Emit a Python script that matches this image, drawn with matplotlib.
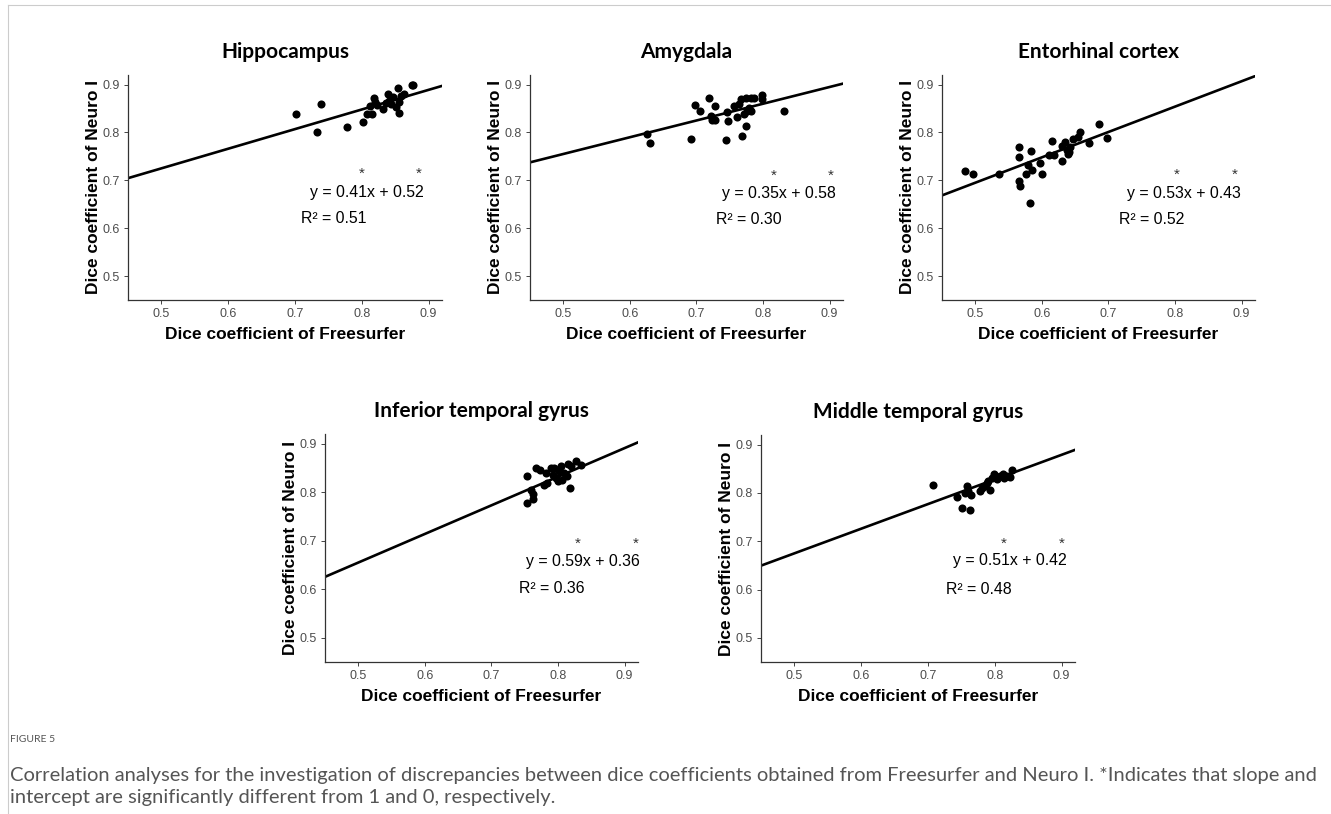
import matplotlib.pyplot as plt
import numpy as np

# data
titles = ["Hippocampus", "Amygdala", "Entorhinal cortex",
          "Inferior temporal gyrus", "Middle temporal gyrus"]

hippo_x = [0.702, 0.7395, 0.733, 0.778, 0.802, 0.807, 0.8145, 0.8125, 0.8175, 0.82,
           0.822, 0.831, 0.839, 0.841, 0.8435, 0.851, 0.8545, 0.855, 0.8585, 0.8635,
           0.856, 0.846, 0.836, 0.875, 0.877]
hippo_y = [0.838, 0.8585, 0.800, 0.811, 0.822, 0.838, 0.839, 0.8556, 0.872, 0.8627,
           0.857, 0.8487, 0.881, 0.866, 0.8585, 0.8535, 0.893, 0.840, 0.8757, 0.880,
           0.864, 0.874, 0.861, 0.900, 0.899]

amyg_x = [0.625, 0.630, 0.6914, 0.6977, 0.706, 0.719, 0.728, 0.7213, 0.723, 0.728,
          0.746, 0.7466, 0.745, 0.757, 0.761, 0.7645, 0.767, 0.768, 0.774, 0.7815,
          0.7865, 0.7715, 0.775, 0.776, 0.7815, 0.799, 0.799, 0.832, 0.779]
amyg_y = [0.797, 0.7775, 0.7866, 0.858, 0.844, 0.873, 0.856, 0.835, 0.8267, 0.826,
          0.842, 0.823, 0.7845, 0.856, 0.8315, 0.859, 0.8697, 0.7935, 0.873, 0.873,
          0.873, 0.8385, 0.814, 0.845, 0.844, 0.8786, 0.870, 0.844, 0.851]

ento_x = [0.485, 0.496, 0.535, 0.566, 0.565, 0.565, 0.567, 0.582, 0.584, 0.5797,
          0.576, 0.5857, 0.597, 0.5997, 0.6147, 0.611, 0.6186, 0.6296, 0.6306, 0.6345,
          0.637, 0.6405, 0.642, 0.647, 0.6535, 0.657, 0.671, 0.6858, 0.698, 0.6395]
ento_y = [0.7185, 0.7137, 0.7137, 0.769, 0.748, 0.6983, 0.6873, 0.6534, 0.762, 0.733,
          0.7137, 0.722, 0.7358, 0.7123, 0.783, 0.752, 0.752, 0.740, 0.7726, 0.7795,
          0.7636, 0.7586, 0.769, 0.7865, 0.790, 0.800, 0.778, 0.8177, 0.7886, 0.754]

itg_x = [0.754, 0.754, 0.759, 0.7617, 0.763, 0.7667, 0.7727, 0.779, 0.784, 0.7825,
         0.789, 0.7925, 0.7966, 0.8015, 0.804, 0.8065, 0.8005, 0.8154, 0.819, 0.814,
         0.818, 0.8265, 0.834, 0.794, 0.809]
itg_y = [0.834, 0.7786, 0.805, 0.796, 0.7857, 0.850, 0.8466, 0.814, 0.819, 0.8397,
         0.850, 0.836, 0.8293, 0.843, 0.8534, 0.8258, 0.8223, 0.8584, 0.8534, 0.8327,
         0.8085, 0.8638, 0.857, 0.850, 0.840]

mtg_x = [0.707, 0.7438, 0.7504, 0.7628, 0.758, 0.7553, 0.760, 0.7638, 0.7778, 0.7803,
         0.7853, 0.790, 0.7928, 0.7953, 0.7987, 0.8028, 0.8077, 0.8137, 0.8187, 0.825,
         0.8227, 0.7878, 0.8117]
mtg_y = [0.8175, 0.791, 0.769, 0.7655, 0.814, 0.800, 0.8035, 0.7952, 0.8035, 0.8106,
         0.814, 0.8243, 0.807, 0.8314, 0.8397, 0.8279, 0.8347, 0.830, 0.8347, 0.8466,
         0.8327, 0.821, 0.8383]

xs = [hippo_x, amyg_x, ento_x, itg_x, mtg_x]
ys = [hippo_y, amyg_y, ento_y, itg_y, mtg_y]
slopes = [0.41, 0.35, 0.53, 0.59, 0.51]
intercepts = [0.52, 0.58, 0.43, 0.36, 0.42]
r2 = [0.51, 0.30, 0.52, 0.36, 0.48]

# annotation anchors (data coords): equation right edge, R2 left edge, star x's
eq_right = [0.892, 0.909, 0.899, 0.922, 0.908]
eq_y = [0.674, 0.672, 0.673, 0.658, 0.660]
r2_left = [0.709, 0.729, 0.716, 0.742, 0.727]
r2_y = [0.620, 0.618, 0.619, 0.601, 0.601]
star1_x = [0.7995, 0.8166, 0.803, 0.830, 0.8137]
star2_x = [0.885, 0.902, 0.889, 0.916, 0.900]
star_y = [0.7175, 0.7125, 0.716, 0.698, 0.699]

W, H = 1331, 814
fig = plt.figure(figsize=(W / 100, H / 100), dpi=100)

# axes boxes in pixels: left, right, top, bottom
boxes = [(128, 442, 75, 300), (530, 843, 75, 300), (942, 1255, 75, 300),
         (325, 638, 434, 662), (761, 1075, 435, 662)]

lab_font = "Liberation Sans"
ticks = [0.5, 0.6, 0.7, 0.8, 0.9]

for i, (l, r, t, b) in enumerate(boxes):
    ax = fig.add_axes([l / W, 1 - b / H, (r - l) / W, (b - t) / H])
    ax.scatter(xs[i], ys[i], s=34, color="black", zorder=3, linewidths=0)
    lx = np.array([0.45, 0.92])
    ax.plot(lx, slopes[i] * lx + intercepts[i], color="black", lw=1.9, zorder=2)
    ax.set_xlim(0.45, 0.92)
    ax.set_ylim(0.45, 0.92)
    ax.set_xticks(ticks)
    ax.set_yticks(ticks)
    ax.set_xticklabels([str(v) for v in ticks], fontfamily=lab_font, fontsize=9, color="#4d4d4d")
    ax.set_yticklabels([str(v) for v in ticks], fontfamily=lab_font, fontsize=9, color="#4d4d4d")
    ax.tick_params(length=3, width=0.7, color="#444444", pad=3)
    for sp in ["top", "right"]:
        ax.spines[sp].set_visible(False)
    for sp in ["left", "bottom"]:
        ax.spines[sp].set_linewidth(0.9)
        ax.spines[sp].set_color("#333333")
    ax.set_xlabel("Dice coefficient of Freesurfer", fontfamily=lab_font, fontweight="bold",
                  fontsize=12.5, labelpad=5)
    ax.set_ylabel("Dice coefficient of Neuro I", fontfamily=lab_font, fontweight="bold",
                  fontsize=12.5, labelpad=1)
    ax.set_title(titles[i], fontfamily="Lato", fontweight="bold", fontsize=15, pad=12)

    ax.text(eq_right[i], eq_y[i], "y = %.2fx + %.2f" % (slopes[i], intercepts[i]),
            ha="right", va="center", fontfamily=lab_font, fontsize=11.4)
    ax.text(r2_left[i], r2_y[i], "R\u00b2 = %.2f" % r2[i],
            ha="left", va="center", fontfamily=lab_font, fontsize=11.4)
    for sx in (star1_x[i], star2_x[i]):
        ax.text(sx, star_y[i] - 0.004, "*", ha="center", va="center", fontfamily=lab_font,
                fontsize=11, color="#333333")

# page frame lines
fig.add_artist(plt.Line2D([8 / W, 8 / W], [0, 1 - 5 / H], color="#cccccc", lw=0.8))
fig.add_artist(plt.Line2D([8 / W, 1], [1 - 5 / H, 1 - 5 / H], color="#cccccc", lw=0.8))

fig.text(10 / W, 1 - 740 / H, "FIGURE 5", fontfamily="Lato", fontsize=7.5,
         color="#555555", va="center")
fig.text(10 / W, 1 - 776 / H,
         "Correlation analyses for the investigation of discrepancies between dice coefficients "
         "obtained from Freesurfer and Neuro I. *Indicates that slope and",
         fontfamily="Lato", fontsize=14.5, color="#555555", va="center")
fig.text(10 / W, 1 - 798 / H,
         "intercept are significantly different from 1 and 0, respectively.",
         fontfamily="Lato", fontsize=14.5, color="#555555", va="center")

fig.savefig("out.png", dpi=100)
